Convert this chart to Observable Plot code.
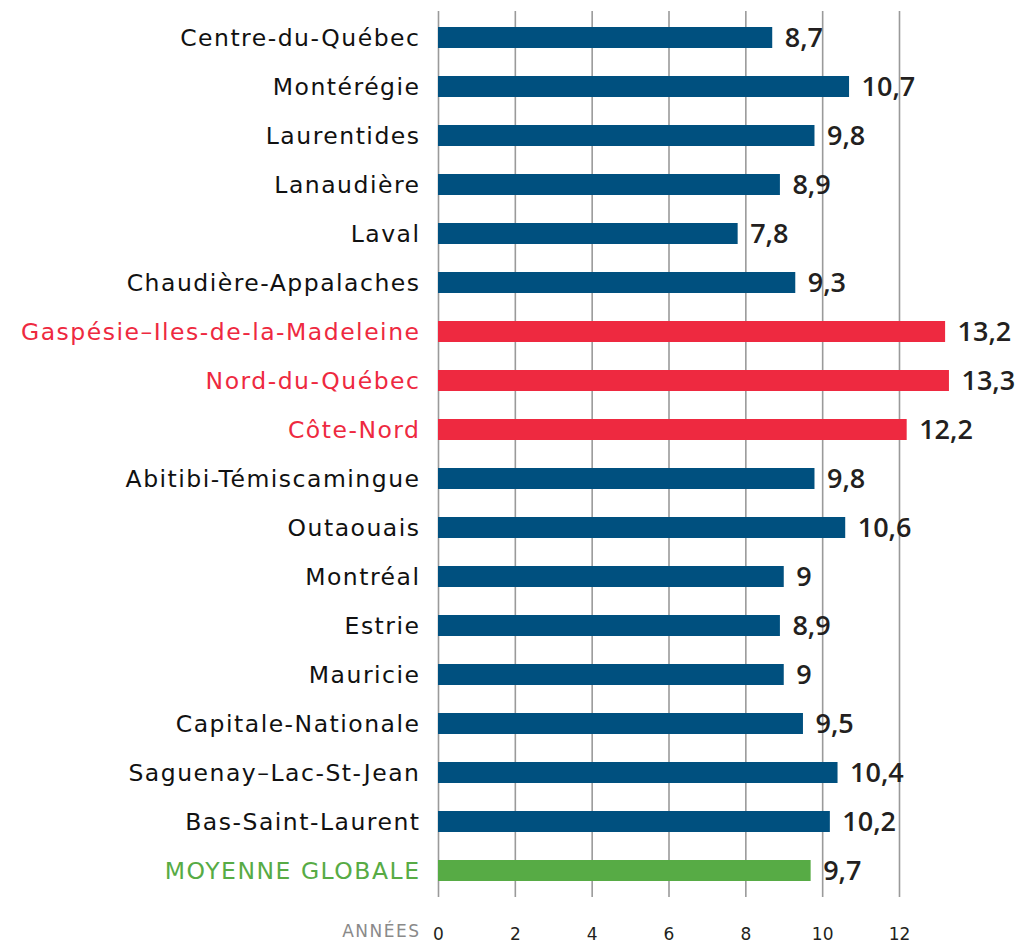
<!DOCTYPE html>
<html>
<head>
<meta charset="utf-8">
<script src="https://cdn.jsdelivr.net/npm/d3@7"></script>
<script src="https://cdn.jsdelivr.net/npm/@observablehq/plot@0.6"></script>
<style>
  html, body { margin: 0; padding: 0; background: #fff; }
  #chart svg { display: block; }
</style>
</head>
<body>
<div id="chart"></div>
<script>
const regions = [
  "Centre-du-Québec", "Montérégie", "Laurentides", "Lanaudière", "Laval",
  "Chaudière-Appalaches", "Gaspésie–Iles-de-la-Madeleine", "Nord-du-Québec",
  "Côte-Nord", "Abitibi-Témiscamingue", "Outaouais", "Montréal", "Estrie",
  "Mauricie", "Capitale-Nationale", "Saguenay–Lac-St-Jean", "Bas-Saint-Laurent",
  "MOYENNE GLOBALE"
];
const values = [8.7, 10.7, 9.8, 8.9, 7.8, 9.3, 13.2, 13.3, 12.2, 9.8, 10.6, 9, 8.9, 9, 9.5, 10.4, 10.2, 9.7];
const groups = ["n","n","n","n","n","n","h","h","h","n","n","n","n","n","n","n","n","m"];
const groupKeys = ["n", "h", "m"];
const barColors = ["#00507f", "#ee2940", "#57ab45"];
const labelColors = ["#111111", "#ee2940", "#57ab45"];
const xTicks = [0, 2, 4, 6, 8, 10, 12];
const axisTitle = "ANNÉES";

const data = regions.map((r, i) => ({region: r, value: values[i], group: groups[i]}));
const fmt = v => String(v).replace(".", ",");
const labelColor = g => labelColors[groupKeys.indexOf(g)];
const font = "'DejaVu Sans', sans-serif";

const chart = Plot.plot({
  width: 1020,
  height: 944,
  marginLeft: 438,
  marginRight: 121,
  marginTop: 11,
  marginBottom: 47,
  style: {fontFamily: font, background: "#fff"},
  x: {domain: [0, 12], ticks: xTicks, label: null},
  y: {domain: regions, paddingInner: 0.57, paddingOuter: 0.285, label: null},
  color: {domain: groupKeys, range: barColors},
  marks: [
    Plot.gridX(xTicks, {stroke: "#9a9a9a", strokeOpacity: 1, strokeWidth: 1.6}),
    Plot.barX(data, {x: "value", y: "region", fill: "group"}),
    Plot.text(data, {x: "value", y: "region", text: d => fmt(d.value), textAnchor: "start", dx: 12,
      fill: "#231f20", fontSize: 27, fontWeight: 600, fontFamily: "'Open Sans', sans-serif"}),
    Plot.text(data, {x: 0, y: "region", text: "region", textAnchor: "end", dx: -18,
      fill: d => labelColor(d.group), fontSize: 23.5}),
    Plot.axisX(xTicks, {tickSize: 0, tickPadding: 30, fontSize: 17, fill: "#231f20", label: null}),
    Plot.axisY({ticks: [], tickSize: 0, label: null}),
    Plot.text([axisTitle], {x: 0, frameAnchor: "bottom", dy: 39, dx: -18, textAnchor: "end",
      fill: "#8a8a8a", fontSize: 17})
  ]
});
const textGroups = d3.select(chart).selectAll('g[aria-label="text"]');
textGroups.filter((d, i) => i === 1).attr("letter-spacing", "1.5px");
textGroups.filter((d, i) => i === 2).attr("letter-spacing", "1.5px");
document.getElementById("chart").appendChild(chart);
</script>
</body>
</html>
